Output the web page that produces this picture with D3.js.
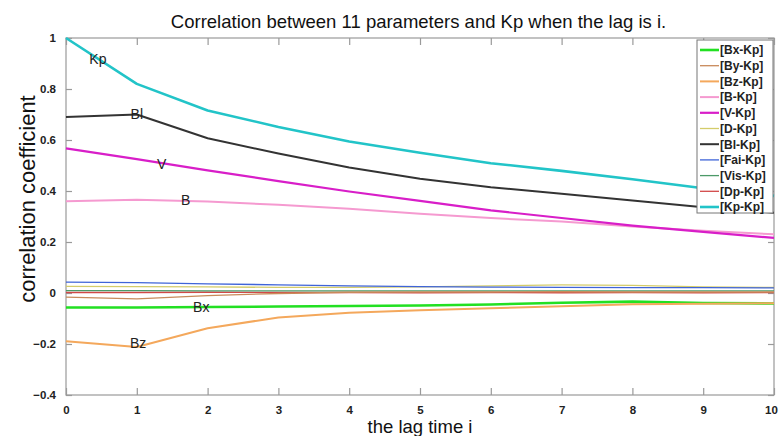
<!DOCTYPE html>
<html>
<head>
<meta charset="utf-8">
<script src="https://cdn.jsdelivr.net/npm/d3@7"></script>
<style>
  html, body { margin: 0; padding: 0; background: #fff; }
  svg { display: block; }
  text { font-family: Arial, "Liberation Sans", sans-serif; }
</style>
</head>
<body>
<svg id="chart" width="779" height="436"></svg>
<script>
// ---- data ----
const lags = [0, 1, 2, 3, 4, 5, 6, 7, 8, 9, 10];
const seriesNames = ["[Bx-Kp]", "[By-Kp]", "[Bz-Kp]", "[B-Kp]", "[V-Kp]", "[D-Kp]", "[Bl-Kp]", "[Fai-Kp]", "[Vis-Kp]", "[Dp-Kp]", "[Kp-Kp]"];
const bx  = [-0.057, -0.057, -0.055, -0.053, -0.051, -0.049, -0.045, -0.038, -0.034, -0.039, -0.041];
const by  = [-0.016, -0.023, -0.010, -0.002, 0.003, 0.004, 0.004, 0.005, 0.004, 0.004, 0.004];
const bz  = [-0.189, -0.212, -0.138, -0.096, -0.077, -0.068, -0.060, -0.052, -0.044, -0.042, -0.040];
const b   = [0.360, 0.366, 0.359, 0.346, 0.330, 0.311, 0.294, 0.280, 0.261, 0.244, 0.230];
const v   = [0.567, 0.525, 0.481, 0.439, 0.398, 0.361, 0.324, 0.294, 0.264, 0.240, 0.216];
const d   = [0.026, 0.025, 0.024, 0.022, 0.022, 0.024, 0.028, 0.032, 0.030, 0.024, 0.022];
const bl  = [0.690, 0.700, 0.607, 0.547, 0.492, 0.448, 0.415, 0.389, 0.363, 0.336, 0.315];
const fai = [0.043, 0.041, 0.036, 0.032, 0.028, 0.025, 0.023, 0.022, 0.021, 0.021, 0.020];
const vis = [0.009, 0.009, 0.008, 0.008, 0.008, 0.008, 0.008, 0.008, 0.008, 0.008, 0.008];
const dp  = [0.002, 0.002, 0.003, 0.002, 0.002, 0.001, 0.002, 0.001, 0.002, 0.001, 0.002];
const kp  = [1.000, 0.820, 0.716, 0.651, 0.594, 0.550, 0.509, 0.479, 0.446, 0.411, 0.381];
const seriesValues = [bx, by, bz, b, v, d, bl, fai, vis, dp, kp];
const seriesColors = ["#22e022", "#c98a5a", "#f4a85c", "#f59ad0", "#d81ec8", "#d4cc6a", "#333333", "#3f64d8", "#4c9a68", "#d24848", "#22c4c8"];
const seriesWidths = [2.6, 1.3, 2.0, 2.0, 2.2, 1.3, 2.0, 1.3, 1.3, 1.3, 2.6];
const xTicks = [0, 1, 2, 3, 4, 5, 6, 7, 8, 9, 10];
const yTicks = [-0.4, -0.2, 0, 0.2, 0.4, 0.6, 0.8, 1];
const annotations = [
  { text: "Kp", x: 0.45, y: 0.918 },
  { text: "Bl", x: 1.00, y: 0.700 },
  { text: "V",  x: 1.35, y: 0.507 },
  { text: "B",  x: 1.69, y: 0.363 },
  { text: "Bx", x: 1.91, y: -0.057 },
  { text: "Bz", x: 1.02, y: -0.196 }
];
const titleText = "Correlation between 11 parameters and Kp when the lag is i.";
const xLabel = "the lag time i";
const yLabel = "correlation coefficient";

// ---- layout ----
const svg = d3.select("#chart");
const L = 66, R = 774, T = 38, B = 395;
const x = d3.scaleLinear().domain([0, 10]).range([L, R]);
const y = d3.scaleLinear().domain([-0.4, 1]).range([B, T]);
const axisColor = "#9a9a9a";

// plot frame
svg.append("rect").attr("x", L).attr("y", T).attr("width", R - L).attr("height", B - T)
  .attr("fill", "none").attr("stroke", axisColor).attr("stroke-width", 1.2);

// axes via d3-axis
const fmtY = t => (t === 0 ? "0" : t === 1 ? "1" : d3.format(".1f")(t));
const xAxisB = d3.axisBottom(x).tickValues(xTicks).tickSize(-7).tickPadding(11).tickFormat(d3.format("d"));
const xAxisT = d3.axisTop(x).tickValues(xTicks).tickSize(-7).tickFormat("");
const yAxisL = d3.axisLeft(y).tickValues(yTicks).tickSize(-6).tickPadding(10).tickFormat(fmtY);
const yAxisR = d3.axisRight(y).tickValues(yTicks).tickSize(-6).tickFormat("");

function styleAxis(g) {
  g.select(".domain").remove();
  g.selectAll(".tick line").attr("stroke", axisColor).attr("stroke-width", 1.2);
  g.selectAll(".tick text").attr("fill", "#222").attr("font-size", 11.5).attr("font-weight", "bold")
    .attr("font-family", "Arial, 'Liberation Sans', sans-serif");
}
svg.append("g").attr("transform", `translate(0,${B})`).call(xAxisB).call(styleAxis)
  .selectAll(".tick text").filter(t => t === 10).attr("dx", -3);
svg.append("g").attr("transform", `translate(0,${T})`).call(xAxisT).call(styleAxis);
svg.append("g").attr("transform", `translate(${L},0)`).call(yAxisL).call(styleAxis);
svg.append("g").attr("transform", `translate(${R},0)`).call(yAxisR).call(styleAxis);

// lines
const line = d3.line().x((dd, i) => x(lags[i])).y(dd => y(dd));
const drawOrder = [9, 8, 5, 7, 1, 0, 2, 3, 4, 6, 10];
drawOrder.forEach(k => {
  svg.append("path").datum(seriesValues[k]).attr("d", line)
    .attr("fill", "none").attr("stroke", seriesColors[k]).attr("stroke-width", seriesWidths[k])
    .attr("stroke-linejoin", "round");
});

// annotations
annotations.forEach(a => {
  svg.append("text").attr("x", x(a.x)).attr("y", y(a.y)).attr("dy", "0.35em")
    .attr("text-anchor", "middle").attr("font-size", 14).attr("fill", "#222").text(a.text);
});

// legend
const lgX = 697, lgY = 40, lgW = 76, lgH = 173, rowH = 15.7;
svg.append("rect").attr("x", lgX).attr("y", lgY).attr("width", lgW).attr("height", lgH)
  .attr("fill", "#fff").attr("stroke", "#777").attr("stroke-width", 1);
seriesNames.forEach((n, i) => {
  const cy = lgY + 10 + i * rowH;
  svg.append("line").attr("x1", lgX + 3).attr("x2", lgX + 22).attr("y1", cy).attr("y2", cy)
    .attr("stroke", seriesColors[i]).attr("stroke-width", seriesWidths[i]);
  svg.append("text").attr("x", lgX + 23).attr("y", cy).attr("dy", "0.36em")
    .attr("font-size", 12).attr("font-weight", "bold").attr("fill", "#222").text(n);
});

// title and axis labels
svg.append("text").attr("x", 418.5).attr("y", 28).attr("text-anchor", "middle")
  .attr("font-size", 18.5).attr("fill", "#111").text(titleText);
svg.append("text").attr("x", 420).attr("y", 433).attr("text-anchor", "middle")
  .attr("font-size", 18.5).attr("fill", "#111").text(xLabel);
svg.append("text").attr("transform", "translate(35,199) rotate(-90)").attr("text-anchor", "middle")
  .attr("font-size", 22).attr("fill", "#111").text(yLabel);
</script>
</body>
</html>
